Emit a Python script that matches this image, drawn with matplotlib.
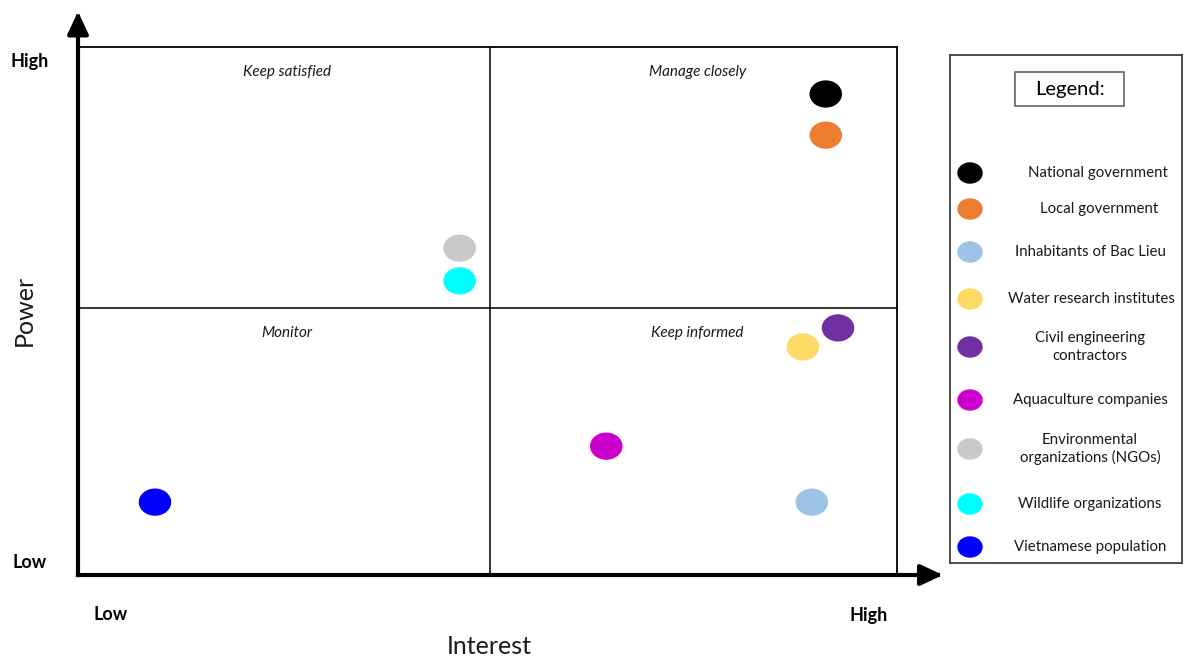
import matplotlib.pyplot as plt
from matplotlib.patches import Ellipse, Rectangle

plt.rcParams["font.family"] = ["Lato", "DejaVu Sans"]

# stakeholders, their interest / power scores (0-10) and colours
stakeholders = [
    "National government",
    "Local government",
    "Inhabitants of Bac Lieu",
    "Water research institutes",
    "Civil engineering\ncontractors",
    "Aquaculture companies",
    "Environmental\norganizations (NGOs)",
    "Wildlife organizations",
    "Vietnamese population",
]
interest = [9.13, 9.13, 8.96, 8.85, 9.28, 6.45, 4.66, 4.66, 0.94]
power = [9.11, 8.33, 1.38, 4.32, 4.68, 2.44, 6.19, 5.57, 1.38]
colors = ["#000000", "#ED7D31", "#9DC3E6", "#FFD966", "#7030A0",
          "#CC00CC", "#C9C9C9", "#00FFFF", "#0000FF"]

quadrants = ["Keep satisfied", "Manage closely", "Monitor", "Keep informed"]

W, H = 1184, 657
fig = plt.figure(figsize=(W / 100, H / 100), dpi=100)

# main power/interest grid
ax = fig.add_axes([78 / W, 1 - 575 / H, 819 / W, 528 / H])
ax.set_xlim(0, 10)
ax.set_ylim(0, 10)
ax.set_xticks([])
ax.set_yticks([])
for side in ["top", "right"]:
    ax.spines[side].set_linewidth(1.3)
for side in ["left", "bottom"]:
    ax.spines[side].set_visible(False)

ax.axvline(5.03, color="black", lw=1.1)
ax.axhline(5.06, color="black", lw=1.1)

# axis arrows
arrow = dict(arrowstyle="-|>,head_length=0.68,head_width=0.32", lw=3,
             color="black", mutation_scale=20, shrinkA=0, shrinkB=0,
             capstyle="projecting")
ax.annotate("", xy=(0, 1.067), xytext=(0, 0), xycoords="axes fraction",
            arrowprops=arrow, annotation_clip=False)
ax.annotate("", xy=(1.056, 0), xytext=(0, 0), xycoords="axes fraction",
            arrowprops=arrow, annotation_clip=False)

# quadrant titles
quad_pos = [(0.255, 0.953), (0.756, 0.953), (0.255, 0.459), (0.756, 0.459)]
for label, (qx, qy) in zip(quadrants, quad_pos):
    ax.text(qx, qy, label, transform=ax.transAxes, ha="center", va="center",
            fontsize=11, style="italic", color="#1a1a1a")

# stakeholder markers
for x, y, c in zip(interest, power, colors):
    ax.add_patch(Ellipse((x, y), 0.38, 0.49, color=c, zorder=3))

# axis labels
fig.text(30 / W, 1 - 61 / H, "High", ha="center", va="center", fontsize=13, fontweight="bold")
fig.text(30 / W, 1 - 563 / H, "Low", ha="center", va="center", fontsize=13, fontweight="bold")
fig.text(111 / W, 1 - 615 / H, "Low", ha="center", va="center", fontsize=13, fontweight="bold")
fig.text(869 / W, 1 - 616 / H, "High", ha="center", va="center", fontsize=13, fontweight="bold")
fig.text(24 / W, 1 - 310 / H, "Power", ha="center", va="center", fontsize=18, rotation=90,
         color="#1a1a1a")
fig.text(489 / W, 1 - 646 / H, "Interest", ha="center", va="center", fontsize=18,
         color="#1a1a1a")

# legend panel
lg = fig.add_axes([950 / W, 1 - 563 / H, 232 / W, 508 / H])
lg.set_xlim(0, 232)
lg.set_ylim(508, 0)
lg.set_xticks([])
lg.set_yticks([])
for sp in lg.spines.values():
    sp.set_color("#404040")
    sp.set_linewidth(1.3)

lg.add_patch(Rectangle((65, 17), 109, 34, fc="white", ec="#555555", lw=1.1))
lg.text(120, 34, "Legend:", ha="center", va="center", fontsize=14.5)

entry_y = [118, 154, 197, 244, 292, 345, 394, 449, 492]
text_x = [148, 149, 140, 141, 140, 140, 140, 140, 140]
for name, c, ey, tx in zip(stakeholders, colors, entry_y, text_x):
    lg.add_patch(Ellipse((20, ey), 24, 20, color=c))
    lg.text(tx, ey, name, ha="center", va="center", fontsize=10.8,
            linespacing=1.3, color="#1a1a1a")

fig.savefig("out.png", dpi=100)
